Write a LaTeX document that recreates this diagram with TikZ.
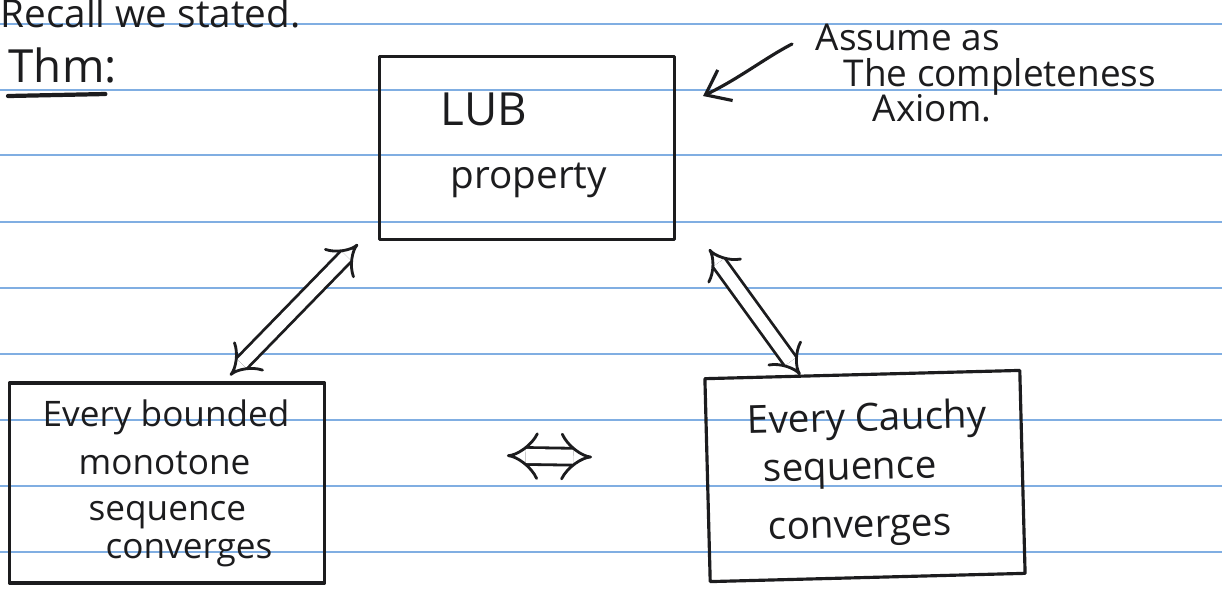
\documentclass[tikz,border=0pt]{standalone}
\usepackage{fontspec}
\setmainfont{Open Sans}
\usetikzlibrary{arrows.meta,calc}
\definecolor{inkc}{RGB}{28,28,30}
\definecolor{rulec}{RGB}{128,174,226}
\begin{document}
\begin{tikzpicture}[x=0.1mm,y=-0.1mm,
  ink/.style={draw=inkc, line width=0.9pt, line cap=round, line join=round},
  box/.style={ink, rectangle, inner sep=0pt},
  hand/.style={text=inkc, inner sep=0pt, anchor=base west},
  big/.style={font=\fontsize{13}{15}\selectfont},
  mid/.style={font=\fontsize{10.5}{12}\selectfont},
  small/.style={font=\fontsize{11}{13}\selectfont},
  tiny/.style={font=\fontsize{10}{12}\selectfont},
  dbl/.style={draw=inkc, double=white, line width=0.8pt, double distance=3.4pt,
              {Implies[scale=1.6]}-{Implies[scale=1.6]}},
  note/.style={ink, -{Straight Barb[length=2.2mm,width=3.4mm]}},
  rule/.style={draw=rulec, line width=0.75pt}]
  % page and ruled lines
  \useasboundingbox (0,0) rectangle (1222,593);
  \fill[white] (0,0) rectangle (1222,593);
  \foreach \yy in {24,90,155,222,288,354,420,486,552}
    \draw[rule] (0,\yy) -- (1222,\yy);

  % heading
  \node[hand, small] (recall) at (0,27) {Recall we stated.};
  \node[hand, big] (thm) at (8,82) {Thm:};
  \draw[ink, line width=1.2pt] ($(thm.base west)+(0,14)$) -- ($(thm.base east)+(-12,12)$);

  % the three boxes
  \node[box, minimum width=29.5mm, minimum height=18.3mm] (lub) at (527,148) {};
  \node[box, minimum width=31.5mm, minimum height=20mm] (mono) at (167,483) {};
  \node[box, minimum width=31.5mm, minimum height=20.3mm, rotate=1.5] (cauchy) at (865,476) {};

  % box texts
  \node[hand, big] (lubA) at (440,125) {LUB};
  \node[hand, small] (lubB) at (450,188) {property};

  \node[hand, tiny] (monoA) at (42,426) {Every bounded};
  \node[hand, tiny] (monoB) at (78,474) {monotone};
  \node[hand, tiny] (monoC) at (88,520) {sequence};
  \node[hand, tiny] (monoD) at (105,558) {converges};

  \node[hand, small, rotate=1.5] (cauA) at (747,434) {Every Cauchy};
  \node[hand, small, rotate=1.5] (cauB) at (763,482) {sequence};
  \node[hand, small, rotate=1.5] (cauC) at (768,540) {converges};

  % side note
  \node[hand, mid] (noteA) at (815,50) {Assume as};
  \node[hand, mid] (noteB) at (843,86) {The completeness};
  \node[hand, mid] (noteC) at (872,121) {Axiom.};
  \coordinate (notestart) at (792,44);
  \draw[note] (notestart) .. controls (765,58) and (740,78) .. ([shift={(27,-52)}]lub.east);

  % equivalences
  \draw[dbl] ([shift={(-20,3)}]lub.south west) -- ([shift={(63,-6)}]mono.north);
  \draw[dbl] ([shift={(33,8)}]lub.south east) -- ([shift={(-62,2)}]cauchy.north);
  \draw[dbl, double distance=4pt, {Implies[scale=2]}-{Implies[scale=2]}]
    ($(mono.east)!0.476!(cauchy.west)+(0,-26)$) -- ($(mono.east)!0.70!(cauchy.west)+(0,-24)$);
\end{tikzpicture}
\end{document}
